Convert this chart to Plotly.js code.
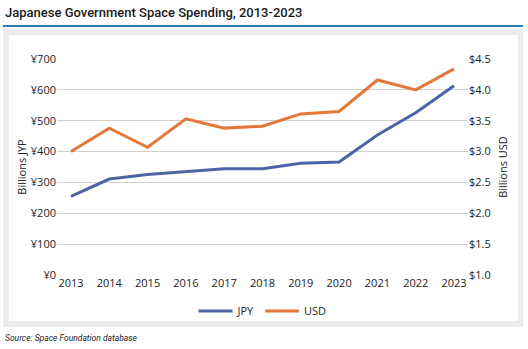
<!DOCTYPE html>
<html>
<head>
<meta charset="utf-8">
<script src="https://cdn.plot.ly/plotly-3.0.1.min.js"></script>
<style>
  html, body { margin:0; padding:0; background:#fff; }
  #wrap { position:relative; width:528px; height:349px; overflow:hidden; }
  #rule { position:absolute; left:3px; top:25px; width:520px; height:2px; background:#2a7db3; }
  #panel { position:absolute; left:3px; top:29px; width:520px; height:298px; background:#ececec; }
  #inner { position:absolute; left:9px; top:35px; width:509px; height:286px; background:#fff; }
  #chart { position:absolute; left:0; top:0; width:528px; height:349px; }
</style>
</head>
<body>
<div id="wrap">
  <div id="rule"></div>
  <div id="panel"></div>
  <div id="inner"></div>
  <div id="chart"></div>
</div>
<script>
const years = [2013, 2014, 2015, 2016, 2017, 2018, 2019, 2020, 2021, 2022, 2023];
const jpy = [255, 311, 326, 334, 344, 344, 362, 366, 454, 526, 613];
const usd = [3.00, 3.38, 3.07, 3.53, 3.38, 3.41, 3.61, 3.65, 4.16, 4.00, 4.34];
const jpyTicks = [0, 100, 200, 300, 400, 500, 600, 700];
const usdTicks = [1.0, 1.5, 2.0, 2.5, 3.0, 3.5, 4.0, 4.5];

const font = "'Open Sans', 'Noto Sans', sans-serif";
const titleFont = "Roboto, 'Open Sans', sans-serif";

const traces = [
  { x: years, y: jpy, name: 'JPY', type: 'scatter', mode: 'lines',
    line: { color: '#4a64a4', width: 3 }, yaxis: 'y' },
  { x: years, y: usd, name: 'USD', type: 'scatter', mode: 'lines',
    line: { color: '#e4783a', width: 3 }, yaxis: 'y2' }
];

const layout = {
  width: 528, height: 349,
  margin: { l: 57, r: 60, t: 59, b: 74 },
  paper_bgcolor: 'rgba(0,0,0,0)',
  plot_bgcolor: 'rgba(0,0,0,0)',
  font: { family: font, size: 11, color: '#222' },
  showlegend: true,
  legend: { orientation: 'h', x: 0.5, xanchor: 'center', y: -0.1, yanchor: 'top',
            font: { size: 11, color: '#222' }, itemwidth: 34, tracegroupgap: 0 },
  xaxis: {
    tickmode: 'array', tickvals: years, ticktext: years.map(String),
    range: [2012.635, 2023.365], showgrid: false, zeroline: false,
    showline: false, ticks: '', tickfont: { size: 11 }
  },
  yaxis: {
    range: [0, 700], tickmode: 'array', tickvals: jpyTicks,
    ticktext: jpyTicks.map(v => '¥' + v),
    showgrid: true, gridcolor: '#cfcfcf', gridwidth: 1, zeroline: false,
    showline: false, ticks: '', tickfont: { size: 11 },
    title: { text: 'Billions JYP', font: { size: 11 }, standoff: 1 }
  },
  yaxis2: {
    range: [1.0, 4.5], overlaying: 'y', side: 'right', tickmode: 'array',
    tickvals: usdTicks, ticktext: usdTicks.map(v => '$' + v.toFixed(1)),
    showgrid: false, zeroline: false, showline: false, ticks: '', tickfont: { size: 11 },
    title: { text: 'Billions USD', font: { size: 11 }, standoff: 9 }
  },
  annotations: [
    { text: 'Japanese Government Space Spending, 2013-2023', xref: 'paper', yref: 'paper',
      x: (3 - 57) / 411, y: (275 - 12) / 216, xanchor: 'left', yanchor: 'middle',
      showarrow: false, font: { size: 13, color: '#1a1a1a', family: titleFont, weight: 500 } },
    { text: '<i>Source: Space Foundation database</i>', xref: 'paper', yref: 'paper',
      x: (3 - 57) / 411, y: (275 - 338) / 216, xanchor: 'left', yanchor: 'middle',
      showarrow: false, font: { size: 8.5, color: '#222', family: titleFont } }
  ]
};

Plotly.newPlot('chart', traces, layout, { displayModeBar: false, staticPlot: true });
</script>
</body>
</html>
